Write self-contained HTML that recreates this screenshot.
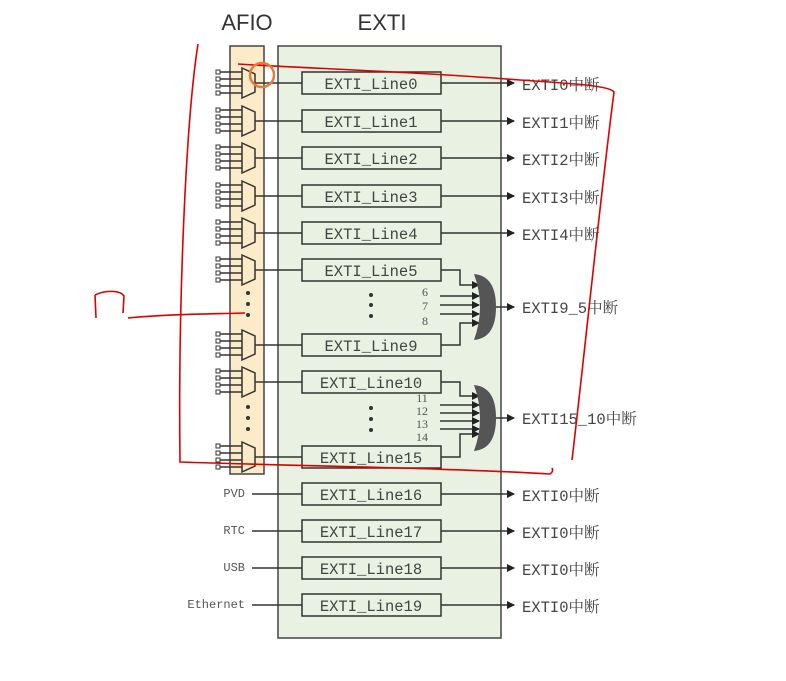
<!DOCTYPE html>
<html><head><meta charset="utf-8"><style>
html,body{margin:0;padding:0;background:#fff;}
svg{display:block;}
.t{font-family:"Liberation Mono","Noto Serif CJK SC",monospace;font-size:15.5px;fill:#444;}
.l{font-family:"Liberation Mono","Noto Sans CJK SC",monospace;font-size:12px;fill:#555;}
.n{font-family:"Liberation Serif",serif;font-size:12px;fill:#555;}
</style></head><body>
<svg id="s" width="786" height="681" viewBox="0 0 786 681" xmlns="http://www.w3.org/2000/svg">
<defs><marker id="a" markerWidth="8" markerHeight="8" refX="7" refY="4" orient="auto" markerUnits="userSpaceOnUse"><path d="M0,0L8,4L0,8Z" fill="#222"/></marker></defs>
<text x="247" y="30" font-family="Liberation Sans,sans-serif" font-size="22" fill="#333" text-anchor="middle">AFIO</text>
<text x="382" y="30" font-family="Liberation Sans,sans-serif" font-size="22" fill="#333" text-anchor="middle">EXTI</text>
<rect x="230" y="46" width="34" height="428" fill="#fcebc9" stroke="#444" stroke-width="1.5"/>
<rect x="278" y="46" width="223" height="592" fill="#e8f1e2" stroke="#444" stroke-width="1.5"/>
<g id="mux" stroke="#333" stroke-width="1.5" fill="#fcebc9"></g>
<g id="box" stroke="#333" stroke-width="1.5" fill="#e8f1e2"></g>
<g fill="#333">
<circle cx="248" cy="293" r="2"/><circle cx="248" cy="304" r="2"/><circle cx="248" cy="315" r="2"/>
<circle cx="248" cy="407" r="2"/><circle cx="248" cy="418" r="2"/><circle cx="248" cy="429" r="2"/>
<circle cx="371" cy="295" r="2"/><circle cx="371" cy="305" r="2"/><circle cx="371" cy="316" r="2"/>
<circle cx="371" cy="408" r="2"/><circle cx="371" cy="419" r="2"/><circle cx="371" cy="430" r="2"/>
</g>
<g class="t" text-anchor="middle">
<text x="371" y="89">EXTI_Line0</text><text x="371" y="127">EXTI_Line1</text><text x="371" y="164">EXTI_Line2</text>
<text x="371" y="202">EXTI_Line3</text><text x="371" y="239">EXTI_Line4</text><text x="371" y="276">EXTI_Line5</text>
<text x="371" y="351">EXTI_Line9</text><text x="371" y="388">EXTI_Line10</text><text x="371" y="463">EXTI_Line15</text>
<text x="371" y="500">EXTI_Line16</text><text x="371" y="537">EXTI_Line17</text><text x="371" y="574">EXTI_Line18</text><text x="371" y="611">EXTI_Line19</text>
</g>
<g class="t">
<text x="522" y="90">EXTI0中断</text><text x="522" y="128">EXTI1中断</text><text x="522" y="165">EXTI2中断</text>
<text x="522" y="203">EXTI3中断</text><text x="522" y="240">EXTI4中断</text><text x="522" y="313">EXTI9_5中断</text>
<text x="522" y="424">EXTI15_10中断</text>
<text x="522" y="501">EXTI0中断</text><text x="522" y="538">EXTI0中断</text><text x="522" y="575">EXTI0中断</text><text x="522" y="612">EXTI0中断</text>
</g>
<g class="l" text-anchor="end">
<text x="245" y="497">PVD</text><text x="245" y="534">RTC</text><text x="245" y="571">USB</text><text x="245" y="608">Ethernet</text>
</g>
<g class="n" text-anchor="middle">
<text x="425" y="296">6</text><text x="425" y="310">7</text><text x="425" y="325">8</text>
<text x="422" y="402">11</text><text x="422" y="415">12</text><text x="422" y="428">13</text><text x="422" y="441">14</text>
</g>
<g id="wires" stroke="#333" stroke-width="1.5" fill="none"></g>
<g fill="#555">
<path d="M474,274 Q496,276 496,307 Q496,338 474,340 Q486,307 474,274Z"/>
<path d="M474,385 Q496,387 496,418 Q496,449 474,451 Q486,418 474,385Z"/>
</g>
<g stroke="#d00" stroke-width="1.6" fill="none">
<path d="M198,44 C186,120 178,300 180,462 C300,466 450,468 550,474 C553,472 553,470 552,468"/>
<path d="M238,64 C300,68 420,72 520,80 C580,84 610,86 614,92 C600,200 585,350 572,460"/>
<path d="M128,318 C170,314 210,314 245,313"/>
<path d="M95,295 L96,318 M95,295 C105,290 120,290 124,296 L123,313"/>
</g>
<circle cx="262" cy="75" r="12" stroke="#e87a3a" stroke-width="2.5" fill="none"/>
</svg>
<script>
var NS="http://www.w3.org/2000/svg";
function el(p,t,a){var e=document.createElementNS(NS,t);for(var k in a)e.setAttribute(k,a[k]);document.getElementById(p).appendChild(e);return e;}
var mux=[83,121,158,196,233,270,345,382,457];
mux.forEach(function(y){
 for(var i=0;i<4;i++){var yy=y-11+i*7;el("mux","line",{x1:219,y1:yy,x2:242,y2:yy});el("mux","rect",{x:216,y:yy-2,width:4,height:4,fill:"#fff","stroke-width":1});}
 el("mux","path",{d:"M242,"+(y-15)+"L255,"+(y-9)+"L255,"+(y+9)+"L242,"+(y+15)+"Z"});
 el("mux","line",{x1:255,y1:y,x2:302,y2:y});
});
var rows=[83,121,158,196,233,270,345,382,457,494,531,568,605];
rows.forEach(function(y){el("box","rect",{x:302,y:y-11,width:139,height:22});});
[83,121,158,196,233,494,531,568,605].forEach(function(y){el("wires","line",{x1:441,y1:y,x2:514,y2:y,"marker-end":"url(#a)"});});
[494,531,568,605].forEach(function(y){el("wires","line",{x1:252,y1:y,x2:302,y2:y});});
function bundle(top,bot,cy,ins){
 el("wires","path",{d:"M441,"+top+"H460V"+(cy-22)+"H479","marker-end":"url(#a)"});
 el("wires","path",{d:"M441,"+bot+"H460V"+(cy+16)+"H479","marker-end":"url(#a)"});
 ins.forEach(function(y){el("wires","line",{x1:440,y1:y,x2:479,y2:y,"marker-end":"url(#a)"});});
 el("wires","line",{x1:494,y1:cy,x2:514,y2:cy,"marker-end":"url(#a)"});
}
bundle(270,345,307,[296,305,314]);
bundle(382,457,418,[405,413,421,429]);
</script>
</body></html>
